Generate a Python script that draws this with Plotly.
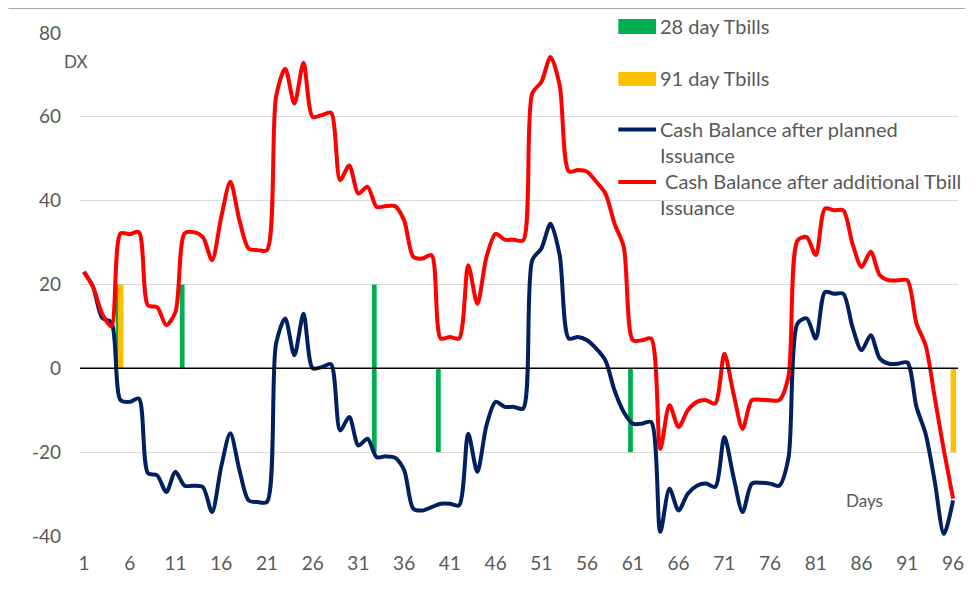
import plotly.graph_objects as go

days = list(range(1, 97))

cash_planned = [
    23, 19.4, 12, 11, -7.6, -8, -7.2, -25, -25.5, -29.5,
    -24.7, -28, -28, -28.3, -34.3, -23.5, -15.5, -24.3, -31.5, -31.9,
    -31.9, 5.9, 11.9, 3.1, 13, 0, 0.3, 1, -14.8, -11.6,
    -18.4, -16.8, -21.2, -21, -21.3, -24.3, -33.5, -33.9, -33.1, -32.3,
    -32.3, -32.7, -15.6, -24.7, -13.6, -8, -9.2, -9.2, -9.6, 25.8,
    28.6, 34.5, 27, 7.1, 7.5, 6.7, 4.7, 1.9, -5.3, -10.4,
    -13.2, -13.2, -12.8, -39, -28.7, -33.9, -29.9, -28, -27.5, -28.3,
    -16.4, -25.9, -34.3, -27.5, -27.3, -27.5, -28, -21.5, 10.7, 11.9,
    7.1, 18.2, 17.8, 17.8, 9.9, 4.3, 7.9, 2.3, 1.1, 1.1,
    1.4, -9.2, -15.6, -27, -39.5, -31.5,
]

cash_additional = [
    23, 19.4, 13, 10, 32.2, 32, 32.5, 15, 14.6, 10.3,
    13.4, 32.2, 32.5, 31.3, 25.8, 36, 44.5, 35.3, 28.6, 28.2,
    28.2, 64.8, 71.5, 63.2, 72.9, 60, 60.4, 61, 44.9, 48.4,
    41.7, 43.3, 38.5, 38.7, 38.7, 35.3, 26.6, 26.2, 27, 7.1,
    7.5, 7.1, 24.6, 15.4, 26.6, 32.1, 30.7, 30.7, 30.5, 65.6,
    68.3, 74.3, 67.5, 47, 47.3, 46.9, 44.5, 41.7, 34.5, 29,
    6.7, 6.7, 7.1, -19.2, -8.8, -14, -10, -8, -7.6, -8.4,
    3.5, -6, -14.4, -7.6, -7.5, -7.6, -7.6, -2, 30.5, 31.3,
    27, 38.1, 37.7, 37.7, 29.8, 24.2, 27.8, 22.2, 21, 21,
    21, 10.7, 5.5, -7, -19.6, -31.1,
]

# 28 day bills: new issues and the maturities 28 days later
tb28_issue_days = [5, 12, 33]
tb28_issue = [20, 20, 20]
tb28_mature_days = [33, 40, 61]
tb28_mature = [-20, -20, -20]

tb91_days = [5, 96]
tb91 = [20, -20]

tick_days = list(range(1, 97, 5))
y_ticks = [-40, -20, 0, 20, 40, 60, 80]

GREEN = "#00B050"
YELLOW = "#FFC000"
NAVY = "#002060"
RED = "#FF0000"
GREY = "#595959"
FONT = "Lato, Calibri, sans-serif"

fig = go.Figure()

fig.add_trace(go.Bar(x=tb28_issue_days, y=tb28_issue, width=0.52, offset=-0.52,
                     marker=dict(color=GREEN, line=dict(width=0)), name="28 day Tbills"))
fig.add_trace(go.Bar(x=tb28_mature_days, y=tb28_mature, width=0.52, offset=-0.52,
                     marker=dict(color=GREEN, line=dict(width=0)), name="28 day Tbills"))
fig.add_trace(go.Bar(x=tb91_days, y=tb91, width=0.6, offset=-0.27,
                     marker=dict(color=YELLOW, line=dict(width=0)), name="91 day Tbills"))

fig.add_trace(go.Scatter(x=days, y=cash_planned, mode="lines",
                         line=dict(color=NAVY, width=4, shape="spline", smoothing=0.8),
                         name="Cash Balance after planned Issuance"))
fig.add_trace(go.Scatter(x=days, y=cash_additional, mode="lines",
                         line=dict(color=RED, width=4, shape="spline", smoothing=0.8),
                         name="Cash Balance after additional Tbill Issuance"))

# the page body has an 8px margin, so work in page pixels and shift
BODY = 8
W, H = 979 - 2 * BODY, 597 - 2 * BODY
# plot area in page pixels: x 80..964, y 33..536
PX0, PW, PY0, PH = 80 - BODY, 884, 33 - BODY, 503


def px(x):
    return (x - BODY - PX0) / PW


def py(y):
    return (PY0 + PH - (y - BODY)) / PH


shapes = [
    dict(type="line", xref="paper", yref="y", x0=0, x1=1, y0=0, y1=0,
         line=dict(color="black", width=1.5), layer="above"),
    dict(type="line", xref="paper", yref="paper", x0=px(BODY), x1=px(979 - BODY), y0=py(BODY + 0.5),
         y1=py(BODY + 0.5), line=dict(color="#A6A6A6", width=1)),
    # manual legend keys
    dict(type="rect", xref="paper", yref="paper", x0=px(622), x1=px(660), y0=py(34), y1=py(19),
         fillcolor=GREEN, line=dict(width=0)),
    dict(type="rect", xref="paper", yref="paper", x0=px(622), x1=px(660), y0=py(86), y1=py(72),
         fillcolor=YELLOW, line=dict(width=0)),
    dict(type="line", xref="paper", yref="paper", x0=px(622), x1=px(660), y0=py(129.5), y1=py(129.5),
         line=dict(color=NAVY, width=4)),
    dict(type="line", xref="paper", yref="paper", x0=px(622), x1=px(660), y0=py(182), y1=py(182),
         line=dict(color=RED, width=4)),
]

legend_font = dict(family=FONT, size=20, color=GREY)
annotations = [
    dict(text="28 day Tbills", x=px(662), y=py(26), xanchor="left", yanchor="middle"),
    dict(text="91 day Tbills", x=px(662), y=py(78), xanchor="left", yanchor="middle"),
    dict(text="Cash Balance after planned<br>Issuance", x=px(662), y=py(115), xanchor="left", yanchor="top"),
    dict(text="\u00a0Cash Balance after additional Tbill<br>Issuance", x=px(662), y=py(167), xanchor="left", yanchor="top"),
]
for a in annotations:
    a.update(xref="paper", yref="paper", showarrow=False, align="left", font=legend_font)

annotations.append(dict(text="DX", xref="paper", yref="paper", x=px(75), y=py(61), xanchor="center",
                        yanchor="middle", showarrow=False, font=dict(family=FONT, size=17, color=GREY)))
annotations.append(dict(text="Days", xref="paper", yref="paper", x=px(870), y=py(500), xanchor="center",
                        yanchor="middle", showarrow=False, font=dict(family=FONT, size=17, color=GREY)))

fig.update_layout(
    width=W, height=H,
    margin=dict(l=PX0, r=W - PX0 - PW, t=PY0, b=H - PY0 - PH),
    paper_bgcolor="white", plot_bgcolor="white",
    barmode="overlay", showlegend=False,
    font=dict(family=FONT, color=GREY),
    shapes=shapes, annotations=annotations,
    xaxis=dict(range=[0.57, 96.54], tickmode="array", tickvals=tick_days,
               ticktext=[str(d) for d in tick_days], showgrid=False, zeroline=False,
               showline=False, ticks="", ticklabelstandoff=14,
               tickfont=dict(family=FONT, size=19, color=GREY)),
    yaxis=dict(range=[-40, 80], tickmode="array", tickvals=y_ticks,
               ticktext=[str(v) for v in y_ticks], showgrid=True,
               gridcolor="#D9D9D9", gridwidth=1, zeroline=False, showline=False, ticks="",
               ticklabelstandoff=18, tickfont=dict(family=FONT, size=19, color=GREY)),
)

fig.write_html("out.html")
